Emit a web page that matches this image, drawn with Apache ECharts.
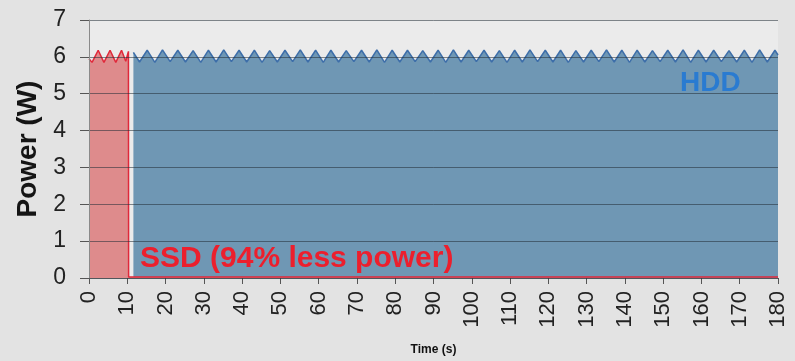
<!DOCTYPE html>
<html>
<head>
<meta charset="utf-8">
<style>
  html, body { margin: 0; padding: 0; background: #e3e3e3; }
  #chart { width: 795px; height: 361px; }
</style>
<script src="https://cdn.jsdelivr.net/npm/echarts@6/dist/echarts.min.js"></script>
</head>
<body>
<div id="chart"></div>
<script>
// Power draw over a 180 s run: hard disk vs solid-state drive
const hddTime = [11.6, 13.2, 15.2, 17.2, 19.2, 21.2, 23.2, 25.2, 27.2, 29.2, 31.2, 33.2, 35.2, 37.2, 39.2, 41.2, 43.2, 45.2, 47.2, 49.2, 51.2, 53.2, 55.2, 57.2, 59.2, 61.2, 63.2, 65.2, 67.2, 69.2, 71.2, 73.2, 75.2, 77.2, 79.2, 81.2, 83.2, 85.2, 87.2, 89.2, 91.2, 93.2, 95.2, 97.2, 99.2, 101.2, 103.2, 105.2, 107.2, 109.2, 111.2, 113.2, 115.2, 117.2, 119.2, 121.2, 123.2, 125.2, 127.2, 129.2, 131.2, 133.2, 135.2, 137.2, 139.2, 141.2, 143.2, 145.2, 147.2, 149.2, 151.2, 153.2, 155.2, 157.2, 159.2, 161.2, 163.2, 165.2, 167.2, 169.2, 171.2, 173.2, 175.2, 177.2, 179.2, 180];
const hddPower = [6.12,
  5.86, 6.18, 5.85, 6.19, 5.87, 6.18, 5.86, 6.17, 5.85, 6.18, 5.86, 6.19, 5.87, 6.18, 5.86, 6.18, 5.85, 6.17, 5.86, 6.18,
  5.87, 6.19, 5.86, 6.18, 5.85, 6.18, 5.86, 6.17, 5.87, 6.18, 5.86, 6.19, 5.85, 6.18, 5.86, 6.18, 5.87, 6.17, 5.86, 6.18,
  5.85, 6.19, 5.86, 6.18, 5.87, 6.18, 5.86, 6.17, 5.85, 6.18, 5.86, 6.19, 5.87, 6.18, 5.86, 6.18, 5.85, 6.17, 5.86, 6.18,
  5.87, 6.19, 5.86, 6.18, 5.85, 6.18, 5.86, 6.17, 5.87, 6.18, 5.86, 6.19, 5.85, 6.18, 5.86, 6.18, 5.87, 6.17, 5.86, 6.18,
  5.85, 6.19, 5.86, 6.18,
  6.05];

const ssdTime  = [0, 0.8, 2.4, 3.9, 5.5, 7.0, 8.5, 9.6, 10.3, 10.35, 180];
const ssdPower = [5.95, 5.85, 6.18, 5.85, 6.18, 5.85, 6.18, 5.88, 6.15, 0.03, 0.03];

const xTicks = { min: 0, max: 180, step: 10 };
const yTicks = { min: 0, max: 7, step: 1 };

const zip = (xs, ys) => xs.map((x, i) => [x, ys[i]]);

const FONT = '"Liberation Sans", Arial, sans-serif';
const chart = echarts.init(document.getElementById('chart'), null, { renderer: 'canvas' });

chart.setOption({
  backgroundColor: '#e3e3e3',
  animation: false,
  textStyle: { fontFamily: FONT },
  grid: {
    left: 89, right: 17, top: 20, bottom: 82,
    show: true, backgroundColor: '#ebebeb', borderWidth: 0
  },
  xAxis: {
    type: 'value',
    min: xTicks.min, max: xTicks.max, interval: xTicks.step,
    name: 'Time (s)',
    nameLocation: 'middle',
    nameGap: 66,
    nameTextStyle: { fontSize: 12, fontWeight: 'bold', color: '#111', fontFamily: FONT },
    axisLine: { show: true, lineStyle: { color: '#8a8a8a', width: 1 } },
    axisTick: { show: true, length: 6, lineStyle: { color: '#555' } },
    axisLabel: { rotate: 90, fontSize: 22, color: '#222', margin: 13, fontFamily: FONT },
    splitLine: { show: false }
  },
  yAxis: {
    type: 'value',
    z: 5,
    min: yTicks.min, max: yTicks.max, interval: yTicks.step,
    name: 'Power (W)',
    nameLocation: 'middle',
    nameGap: 44,
    nameTextStyle: { fontSize: 28, fontWeight: 'bold', color: '#151515', fontFamily: FONT },
    axisLine: { show: true, lineStyle: { color: '#8a8a8a', width: 1 } },
    axisTick: { show: true, length: 9, lineStyle: { color: '#555' } },
    axisLabel: { fontSize: 23, color: '#222', margin: 23, fontFamily: FONT },
    splitLine: { show: true, lineStyle: { color: 'rgba(35,45,55,0.55)', width: 1 } }
  },
  series: [
    {
      name: 'HDD',
      type: 'line',
      data: zip(hddTime, hddPower),
      symbol: 'none',
      z: 2,
      lineStyle: { color: '#3d6ea9', width: 1.5 },
      areaStyle: { color: '#6f97b4', opacity: 1 }
    },
    {
      name: 'SSD',
      type: 'line',
      data: zip(ssdTime, ssdPower),
      symbol: 'none',
      z: 3,
      lineStyle: { color: '#e0283a', width: 1.5 },
      areaStyle: { color: '#de8b8c', opacity: 1 }
    }
  ],
  graphic: [
    {
      type: 'text', left: 680, top: 69, z: 10,
      style: { text: 'HDD', fill: '#2a7bd1', font: 'bold 28px ' + FONT }
    },
    {
      type: 'text', left: 140, top: 244, z: 10,
      style: { text: 'SSD (94% less power)', fill: '#ec1f2d', font: 'bold 30px ' + FONT }
    }
  ]
});
</script>
</body>
</html>
